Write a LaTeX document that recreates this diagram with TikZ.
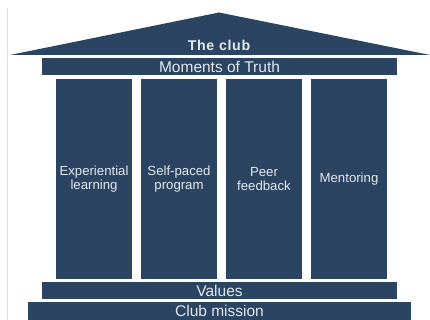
\documentclass[tikz,border=0pt]{standalone}
\usepackage{fontspec}
\setmainfont{Liberation Sans}
\definecolor{navy}{HTML}{2B4461}
\definecolor{txt}{HTML}{E4E9F0}
\begin{document}
\begin{tikzpicture}[x=1pt,y=1pt,
  slab/.style={fill=navy,draw=none,inner sep=0pt,text=txt,font=\fontsize{15.5}{16}\selectfont},
  pillar/.style={fill=navy,draw=none,inner sep=0pt,text=txt,align=center,font=\fontsize{13.2}{14.5}\selectfont},
]
\useasboundingbox (0,0) rectangle (430,320);
\fill[white] (0,0) rectangle (430,320);
\draw[black!12,line width=0.8pt] (7,0) -- (7,312);
% roof
\fill[navy] (10,265) -- (219,307.5) -- (430,265) -- cycle;
\node[text=txt,font=\bfseries\fontsize{14.2}{15}\selectfont] (club) at (219,274.5) {T\kern0.6pt h\kern0.6pt e\kern1pt\ c\kern0.6pt l\kern0.6pt u\kern0.6pt b};
% moments of truth
\node[slab,minimum width=355pt,minimum height=17pt] (mot) at (219.5,253.5) {Moments of Truth};
% pillars
\node[pillar,minimum width=76pt,minimum height=200pt] (p1) at (94,141) {Experiential\\learning};
\node[pillar,minimum width=76pt,minimum height=200pt] (p2) at (179,141) {Self-paced\\program};
\node[pillar,minimum width=76pt,minimum height=200pt] (p3) at (264,141) {Peer\\feedback};
\node[pillar,minimum width=76pt,minimum height=200pt] (p4) at (349,141) {Mentoring};
% values
\node[slab,minimum width=355pt,minimum height=17pt] (val) at (219.5,29.5) {Values};
% club mission
\node[slab,minimum width=383pt,minimum height=18pt] (cm) at (219.5,9) {Club mission};
\end{tikzpicture}
\end{document}
